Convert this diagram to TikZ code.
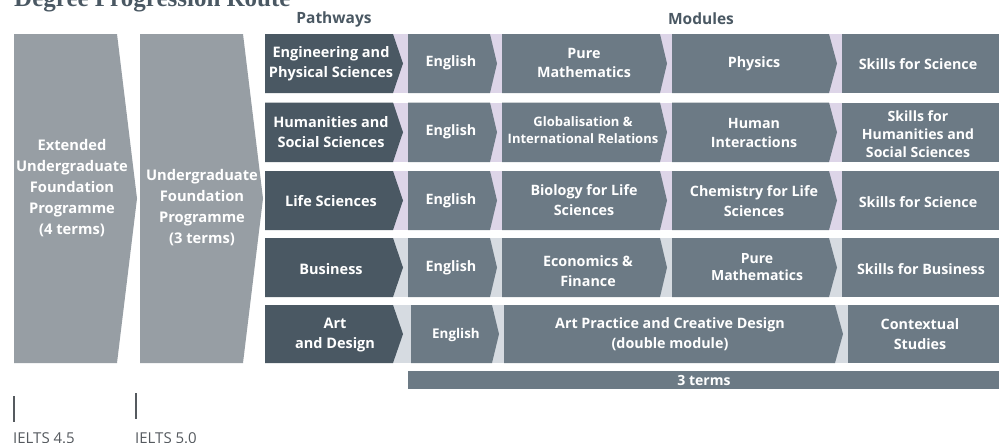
\documentclass[tikz,border=0pt]{standalone}
\usepackage{fontspec}
\setsansfont{Open Sans}
\newfontfamily\titlefont{Liberation Serif}
\definecolor{pathdark}{HTML}{4A5863}
\definecolor{modgrey}{HTML}{6C7A85}
\definecolor{progrey}{HTML}{979EA4}
\definecolor{lilac}{HTML}{DDD5E8}
\definecolor{stripgrey}{HTML}{D6DBE1}
\definecolor{ieltsgrey}{HTML}{555A5F}
\newcommand{\arrowbox}[6]{%
  \fill[#1] (#2,#5) -- (#3,#5) -- (#4,{(#5+#6)/2}) -- (#3,#6) -- (#2,#6) -- cycle;}
\begin{document}
\begin{tikzpicture}[x=1pt,y=-1pt,
  lbl/.style={text=white,align=center,inner sep=0pt,font=\sffamily\bfseries\fontsize{14.3}{19.5}\selectfont},
  plbl/.style={lbl,font=\sffamily\bfseries\fontsize{14.5}{20}\selectfont},
  biglbl/.style={text=white,align=center,inner sep=0pt,font=\sffamily\bfseries\fontsize{14.7}{21}\selectfont},
  head/.style={text=pathdark,inner sep=0pt,font=\sffamily\bfseries\fontsize{15.5}{18}\selectfont},
  ielts/.style={text=ieltsgrey,inner sep=0pt,font=\sffamily\fontsize{15}{18}\selectfont},
  tick/.style={draw=ieltsgrey,line width=1.2pt}]
\useasboundingbox (0,0) rectangle (1000,442);
\fill[white] (0,0) rectangle (1000,442);
% title (cut off at top)
\node[anchor=base west,inner sep=0pt,text=pathdark,font=\titlefont\bfseries\fontsize{25}{28}\selectfont] (title) at (14,6) {Degree Progression Route};
% headers
\node[head] (hpath) at (334,19) {Pathways};
\node[head] (hmod) at (701,19) {Modules};
% programme chevrons
\arrowbox{progrey}{14}{117}{137}{34}{363}
\arrowbox{progrey}{140}{243}{263}{34}{363}
\node[biglbl] (eufp) at (72,188) {Extended\\Undergraduate\\Foundation\\Programme\\(4 terms)};
\node[biglbl] (ufp) at (202,208) {Undergraduate\\Foundation\\Programme\\(3 terms)};
% row backgrounds
\fill[lilac] (385,34) rectangle (999,93);
\fill[lilac] (385,102.5) rectangle (999,162);
\fill[lilac] (385,171) rectangle (999,230);
\fill[stripgrey] (385,238) rectangle (999,297);
\fill[stripgrey] (385,305) rectangle (999,363);
% rows 1-4 boxes
\foreach \t/\b in {34/93,102.5/162,171/230,238/297}{
  \arrowbox{pathdark}{265}{393}{403}{\t}{\b}
  \arrowbox{modgrey}{408}{490}{497}{\t}{\b}
  \arrowbox{modgrey}{502}{660}{667}{\t}{\b}
  \arrowbox{modgrey}{672}{829}{837}{\t}{\b}
  \fill[modgrey] (842,\t) rectangle (999,\b);
}
% row 5
\arrowbox{pathdark}{265}{393}{403}{305}{363}
\arrowbox{modgrey}{411}{492}{499}{305}{363}
\arrowbox{modgrey}{504}{835}{843}{305}{363}
\fill[modgrey] (848,305) rectangle (999,363);
% 3 terms bar
\fill[modgrey] (408,371) rectangle (999,389);
\node[lbl,font=\sffamily\bfseries\fontsize{14}{16}\selectfont] (terms) at (704,380) {3 terms};
% row 1 labels
\node[plbl] (p1) at (331,64) {Engineering and\\Physical Sciences};
\node[lbl] (e1) at (451,63) {English};
\node[lbl] (m11) at (584,63) {Pure\\Mathematics};
\node[lbl] (m12) at (754,64) {Physics};
\node[lbl] (m13) at (918,64) {Skills for Science};
% row 2 labels
\node[plbl] (p2) at (331,132) {Humanities and\\Social Sciences};
\node[lbl] (e2) at (451,132) {English};
\node[lbl,font=\sffamily\bfseries\fontsize{13}{16.5}\selectfont] (m21) at (583,130) {Globalisation \&\\International Relations};
\node[lbl,font=\sffamily\bfseries\fontsize{14.2}{19}\selectfont] (m22) at (754,133) {Human\\Interactions};
\node[lbl,font=\sffamily\bfseries\fontsize{14.1}{18}\selectfont] (m23) at (918,134) {Skills for\\Humanities and\\Social Sciences};
% row 3 labels
\node[plbl] (p3) at (331,201) {Life Sciences};
\node[lbl] (e3) at (451,201) {English};
\node[lbl] (m31) at (584,200) {Biology for Life\\Sciences};
\node[lbl] (m32) at (754,201) {Chemistry for Life\\Sciences};
\node[lbl] (m33) at (918,202) {Skills for Science};
% row 4 labels
\node[plbl] (p4) at (331,269) {Business};
\node[lbl] (e4) at (451,268) {English};
\node[lbl] (m41) at (588,271) {Economics \&\\Finance};
\node[lbl,font=\sffamily\bfseries\fontsize{14}{16.5}\selectfont] (m42) at (757,267) {Pure\\Mathematics};
\node[lbl] (m43) at (921,269) {Skills for Business};
% row 5 labels
\node[plbl] (p5) at (335,335) {Art\\and Design};
\node[lbl,font=\sffamily\bfseries\fontsize{13.4}{16}\selectfont] (e5) at (456,335) {English};
\node[lbl] (m51) at (670,334) {Art Practice and Creative Design\\(double module)};
\node[lbl] (m52) at (920,334) {Contextual\\Studies};
% IELTS markers
\coordinate (t1a) at (14,396);
\coordinate (t1b) at (14,422);
\coordinate (t2a) at (136,393);
\coordinate (t2b) at (136,419);
\draw[tick] (t1a) -- (t1b);
\draw[tick] (t2a) -- (t2b);
\node[ielts,anchor=base west] (i1) at (13,443.5) {IELTS 4.5};
\node[ielts,anchor=base west] (i2) at (135,443.5) {IELTS 5.0};
\end{tikzpicture}
\end{document}
